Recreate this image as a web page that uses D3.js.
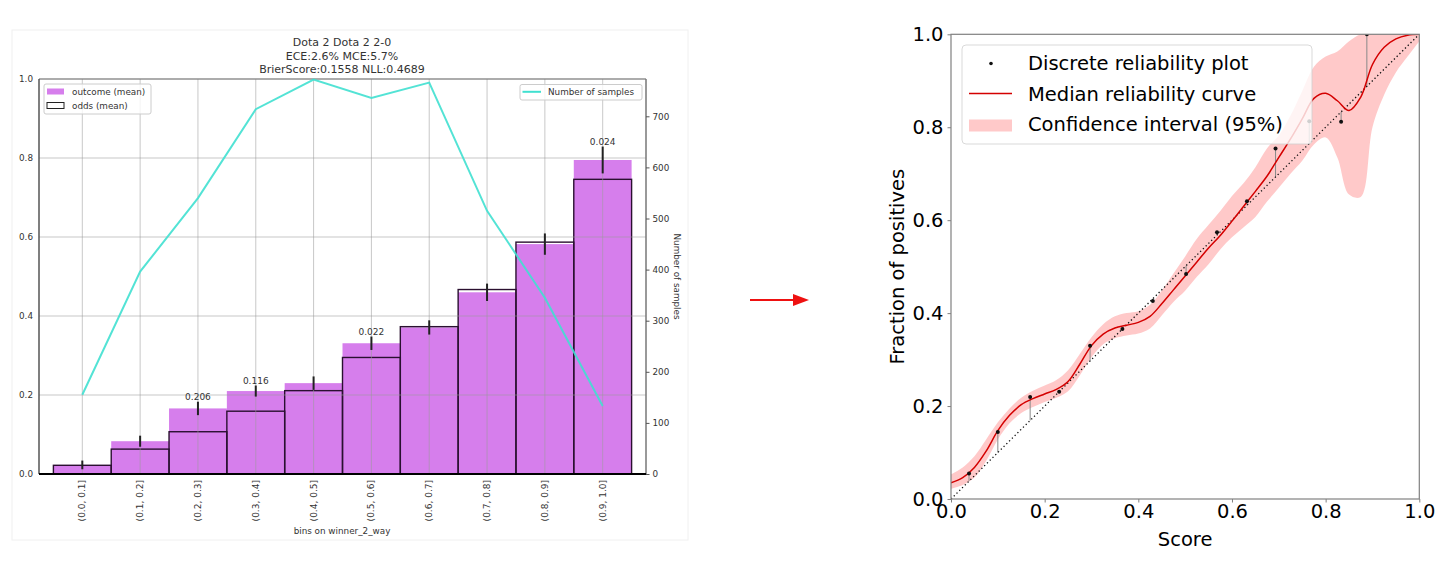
<!DOCTYPE html>
<html>
<head>
<meta charset="utf-8">
<script src="https://cdn.jsdelivr.net/npm/d3@7"></script>
<style>
  html, body { margin: 0; padding: 0; background: #fff; }
  svg { display: block; font-family: "DejaVu Sans", sans-serif; }
</style>
</head>
<body>
<svg id="chart" width="1456" height="567"></svg>
<script>
// ---------------- Left chart data ----------------
const bins = ["(0.0, 0.1]", "(0.1, 0.2]", "(0.2, 0.3]", "(0.3, 0.4]", "(0.4, 0.5]",
              "(0.5, 0.6]", "(0.6, 0.7]", "(0.7, 0.8]", "(0.8, 0.9]", "(0.9, 1.0]"];
const outcomeMean = [0.023, 0.083, 0.166, 0.210, 0.230, 0.331, 0.371, 0.460, 0.582, 0.795];
const oddsMean    = [0.022, 0.063, 0.107, 0.159, 0.211, 0.295, 0.373, 0.467, 0.587, 0.746];
const outcomeErr  = [0.011, 0.014, 0.017, 0.014, 0.017, 0.017, 0.018, 0.022, 0.027, 0.034];
const barLabels   = ["", "", "0.206", "0.116", "", "0.022", "", "", "", "0.024"];
const nSamples    = [155, 396, 540, 714, 772, 736, 766, 515, 345, 133];
const leftYTicks  = [0, 0.2, 0.4, 0.6, 0.8, 1.0];
const rightYTicks = [0, 100, 200, 300, 400, 500, 600, 700];
const titleLines  = ["Dota 2 Dota 2 2-0", "ECE:2.6% MCE:5.7%", "BrierScore:0.1558 NLL:0.4689"];

// ---------------- Right chart data ----------------
const pointX = [0.0385, 0.100, 0.169, 0.231, 0.297, 0.366, 0.431, 0.502, 0.568, 0.632, 0.693, 0.765, 0.833, 0.888];
const pointY = [0.055, 0.144, 0.2195, 0.231, 0.330, 0.366, 0.426, 0.484, 0.574, 0.641, 0.754, 0.813, 0.812, 1.0];
const curveX = [0, 0.025, 0.05, 0.075, 0.1, 0.125, 0.15, 0.175, 0.2, 0.225, 0.25, 0.275, 0.3, 0.325, 0.35,
                0.375, 0.4, 0.425, 0.45, 0.475, 0.5, 0.525, 0.55, 0.575, 0.6, 0.625, 0.65, 0.675, 0.7,
                0.725, 0.75, 0.775, 0.8, 0.825, 0.85, 0.875, 0.9, 0.925, 0.95, 0.975, 1.0];
const medianY = [0.035, 0.046, 0.068, 0.103, 0.147, 0.180, 0.203, 0.216, 0.226, 0.236, 0.253, 0.290, 0.330,
                 0.355, 0.368, 0.374, 0.380, 0.393, 0.420, 0.450, 0.480, 0.510, 0.540, 0.567, 0.598, 0.630,
                 0.662, 0.695, 0.735, 0.775, 0.818, 0.862, 0.873, 0.857, 0.836, 0.865, 0.935, 0.972, 0.990,
                 0.998, 1.0];
const upperY  = [0.053, 0.068, 0.092, 0.128, 0.165, 0.195, 0.218, 0.233, 0.244, 0.256, 0.277, 0.312, 0.348,
                 0.376, 0.393, 0.400, 0.404, 0.418, 0.448, 0.485, 0.522, 0.560, 0.590, 0.620, 0.652, 0.680,
                 0.714, 0.755, 0.782, 0.825, 0.878, 0.930, 0.952, 0.963, 0.985, 1.0, 1.0, 1.0, 1.0, 1.0, 1.0];
const lowerY  = [0.022, 0.030, 0.046, 0.082, 0.128, 0.163, 0.185, 0.198, 0.209, 0.218, 0.232, 0.266, 0.305,
                 0.333, 0.346, 0.352, 0.356, 0.367, 0.395, 0.424, 0.448, 0.478, 0.505, 0.537, 0.563, 0.585,
                 0.607, 0.640, 0.670, 0.700, 0.728, 0.763, 0.778, 0.735, 0.655, 0.650, 0.800, 0.870, 0.918,
                 0.952, 0.985];
const rightTicks = [0, 0.2, 0.4, 0.6, 0.8, 1.0];
const legendR = ["Discrete reliability plot", "Median reliability curve", "Confidence interval (95%)"];

const svg = d3.select("#chart");

// =============== LEFT CHART ===============
const L = { left: 39, right: 646, top: 79, bottom: 474 };
const xb = d3.scaleBand().domain(bins).range([53.4, 631.6]).paddingInner(0).paddingOuter(0);
const yL = d3.scaleLinear().domain([0, 1]).range([L.bottom, L.top]);
const y2 = d3.scaleLinear().domain([0, 773]).range([L.bottom, L.top]);
const cx = b => xb(b) + xb.bandwidth() / 2;
const txt = "#333";

// faint figure frame
svg.append("rect").attr("x", 12).attr("y", 30).attr("width", 676).attr("height", 510)
  .attr("fill", "none").attr("stroke", "#f0f0f0").attr("stroke-width", 1);

const gL = svg.append("g");

// outcome bars
gL.selectAll("rect.outcome").data(bins).join("rect").attr("class", "outcome")
  .attr("x", b => xb(b)).attr("width", xb.bandwidth())
  .attr("y", (b, i) => yL(outcomeMean[i])).attr("height", (b, i) => yL(0) - yL(outcomeMean[i]))
  .attr("fill", "#d67eec");

// odds bars (outline)
gL.selectAll("rect.odds").data(bins).join("rect").attr("class", "odds")
  .attr("x", b => xb(b)).attr("width", xb.bandwidth())
  .attr("y", (b, i) => yL(oddsMean[i])).attr("height", (b, i) => yL(0) - yL(oddsMean[i]))
  .attr("fill", "none").attr("stroke", "#2a1030").attr("stroke-width", 1.4);

// grid
const gridG = gL.append("g").attr("stroke", "#9a9a9a").attr("stroke-opacity", 0.55).attr("stroke-width", 1);
bins.forEach(b => gridG.append("line").attr("x1", cx(b)).attr("x2", cx(b)).attr("y1", L.top).attr("y2", L.bottom));
leftYTicks.forEach(t => gridG.append("line").attr("x1", L.left).attr("x2", L.right).attr("y1", yL(t)).attr("y2", yL(t)));

// error bars
gL.selectAll("line.err").data(bins).join("line").attr("class", "err")
  .attr("x1", cx).attr("x2", cx)
  .attr("y1", (b, i) => yL(outcomeMean[i] - outcomeErr[i]))
  .attr("y2", (b, i) => yL(outcomeMean[i] + outcomeErr[i]))
  .attr("stroke", "#222").attr("stroke-width", 2);

// bar labels
gL.selectAll("text.blab").data(bins).join("text").attr("class", "blab")
  .attr("x", cx).attr("y", (b, i) => yL(outcomeMean[i] + outcomeErr[i]) - 2)
  .attr("text-anchor", "middle").attr("font-size", 9).attr("fill", txt)
  .text((b, i) => barLabels[i]);

// spines
gL.append("line").attr("x1", L.left).attr("x2", L.right).attr("y1", L.top).attr("y2", L.top).attr("stroke", "#777").attr("stroke-width", 1.2);
gL.append("line").attr("x1", L.left).attr("x2", L.left).attr("y1", L.top).attr("y2", L.bottom).attr("stroke", "#555").attr("stroke-width", 1.5);
gL.append("line").attr("x1", L.right).attr("x2", L.right).attr("y1", L.top).attr("y2", L.bottom).attr("stroke", "#777").attr("stroke-width", 1.5);
gL.append("line").attr("x1", L.left).attr("x2", L.right).attr("y1", L.bottom).attr("y2", L.bottom).attr("stroke", "#000").attr("stroke-width", 2);

// left y axis
const axL = d3.axisLeft(yL).tickValues(leftYTicks).tickFormat(d3.format(".1f")).tickSize(0).tickPadding(6);
const gAxL = gL.append("g").attr("transform", `translate(${L.left},0)`).call(axL);
gAxL.select(".domain").remove();
gAxL.selectAll("text").attr("font-size", 8.8).attr("fill", txt).attr("font-family", "DejaVu Sans");

// right y axis
const axR = d3.axisRight(y2).tickValues(rightYTicks).tickSize(3.5).tickPadding(3);
const gAxR = gL.append("g").attr("transform", `translate(${L.right},0)`).call(axR);
gAxR.select(".domain").remove();
gAxR.selectAll("line").attr("stroke", "#555");
gAxR.selectAll("text").attr("font-size", 8.8).attr("fill", txt).attr("font-family", "DejaVu Sans");

// x tick labels (rotated)
gL.selectAll("text.xt").data(bins).join("text").attr("class", "xt")
  .attr("transform", b => `translate(${cx(b)},${L.bottom + 6}) rotate(-90)`)
  .attr("text-anchor", "end").attr("dominant-baseline", "central")
  .attr("font-size", 9).attr("fill", txt).text(b => b);

gL.append("text").attr("x", 342).attr("y", 534).attr("text-anchor", "middle")
  .attr("font-size", 8.8).attr("fill", txt).text("bins on winner_2_way");
gL.append("text").attr("transform", `translate(677,${(L.top + L.bottom) / 2}) rotate(90)`)
  .attr("text-anchor", "middle").attr("dominant-baseline", "central")
  .attr("font-size", 8.8).attr("fill", txt).text("Number of samples");

// title
titleLines.forEach((t, i) => gL.append("text").attr("x", 342).attr("y", 46 + i * 13.5)
  .attr("text-anchor", "middle").attr("font-size", 11).attr("fill", txt).text(t));

// number of samples line
const sLine = d3.line().x((d, i) => cx(bins[i])).y(d => y2(d));
gL.append("path").datum(nSamples).attr("d", sLine).attr("fill", "none")
  .attr("stroke", "#40e0d0").attr("stroke-opacity", 0.9).attr("stroke-width", 2);

// left legends
const lg1 = gL.append("g");
lg1.append("rect").attr("x", 44).attr("y", 84).attr("width", 107).attr("height", 30).attr("rx", 2)
  .attr("fill", "#fff").attr("fill-opacity", 0.8).attr("stroke", "#ccc");
lg1.append("rect").attr("x", 47).attr("y", 88.5).attr("width", 17).attr("height", 6).attr("fill", "#d67eec");
lg1.append("rect").attr("x", 47).attr("y", 102.5).attr("width", 17).attr("height", 6)
  .attr("fill", "none").attr("stroke", "#222").attr("stroke-width", 1);
lg1.append("text").attr("x", 72).attr("y", 92).attr("dominant-baseline", "central")
  .attr("font-size", 8.8).attr("fill", txt).text("outcome (mean)");
lg1.append("text").attr("x", 72).attr("y", 106).attr("dominant-baseline", "central")
  .attr("font-size", 8.8).attr("fill", txt).text("odds (mean)");

const lg2 = gL.append("g");
lg2.append("rect").attr("x", 520).attr("y", 84.5).attr("width", 122).attr("height", 15.5).attr("rx", 2)
  .attr("fill", "#fff").attr("fill-opacity", 0.8).attr("stroke", "#ccc");
lg2.append("line").attr("x1", 522.5).attr("x2", 541).attr("y1", 91.8).attr("y2", 91.8)
  .attr("stroke", "#40e0d0").attr("stroke-width", 2);
lg2.append("text").attr("x", 548).attr("y", 92).attr("dominant-baseline", "central")
  .attr("font-size", 8.8).attr("fill", txt).text("Number of samples");

// =============== ARROW ===============
svg.append("line").attr("x1", 750).attr("x2", 795).attr("y1", 300).attr("y2", 300)
  .attr("stroke", "#ee1111").attr("stroke-width", 2);
svg.append("path").attr("d", "M793,294 L809,300 L793,306 Z").attr("fill", "#ee1111");

// =============== RIGHT CHART ===============
const R = { left: 951, right: 1419.3, top: 34.3, bottom: 499 };
const xR = d3.scaleLinear().domain([0, 1]).range([R.left, R.right]);
const yR = d3.scaleLinear().domain([0, 1]).range([R.bottom, R.top]);
const gR = svg.append("g");

svg.append("defs").append("clipPath").attr("id", "clipR").append("rect")
  .attr("x", R.left).attr("y", R.top).attr("width", R.right - R.left).attr("height", R.bottom - R.top);
const plotR = gR.append("g").attr("clip-path", "url(#clipR)");

// confidence band
const area = d3.area().x((d, i) => xR(curveX[i])).y0((d, i) => yR(lowerY[i])).y1(d => yR(d))
  .curve(d3.curveCatmullRom.alpha(0.5));
plotR.append("path").datum(upperY).attr("d", area).attr("fill", "#ff0000").attr("fill-opacity", 0.21);

// gap lines
plotR.selectAll("line.gap").data(pointX).join("line").attr("class", "gap")
  .attr("x1", d => xR(d)).attr("x2", d => xR(d))
  .attr("y1", d => yR(d)).attr("y2", (d, i) => yR(pointY[i]))
  .attr("stroke", "#8a8a8a").attr("stroke-width", 1);

// diagonal
plotR.append("line").attr("x1", xR(0)).attr("y1", yR(0)).attr("x2", xR(1)).attr("y2", yR(1))
  .attr("stroke", "#111").attr("stroke-width", 1.3).attr("stroke-dasharray", "1.3,2.6");

// median curve
const mline = d3.line().x((d, i) => xR(curveX[i])).y(d => yR(d)).curve(d3.curveCatmullRom.alpha(0.5));
plotR.append("path").datum(medianY).attr("d", mline).attr("fill", "none")
  .attr("stroke", "#d40000").attr("stroke-width", 1.5);

// points
plotR.selectAll("circle.pt").data(pointX).join("circle").attr("class", "pt")
  .attr("cx", d => xR(d)).attr("cy", (d, i) => yR(pointY[i])).attr("r", 2)
  .attr("fill", "#111");

// spines
gR.append("rect").attr("x", R.left).attr("y", R.top).attr("width", R.right - R.left).attr("height", R.bottom - R.top)
  .attr("fill", "none").attr("stroke", "#808080").attr("stroke-width", 1.2);

// axes
const axRX = d3.axisBottom(xR).tickValues(rightTicks).tickFormat(d3.format(".1f")).tickSize(3.5).tickPadding(2);
const gRX = gR.append("g").attr("transform", `translate(0,${R.bottom})`).call(axRX);
gRX.select(".domain").remove();
gRX.selectAll("line").attr("stroke", "#808080");
gRX.selectAll("text").attr("font-size", 19.5).attr("fill", "#000").attr("font-family", "DejaVu Sans");

const axRY = d3.axisLeft(yR).tickValues(rightTicks).tickFormat(d3.format(".1f")).tickSize(3.5).tickPadding(4);
const gRY = gR.append("g").attr("transform", `translate(${R.left},0)`).call(axRY);
gRY.select(".domain").remove();
gRY.selectAll("line").attr("stroke", "#808080");
gRY.selectAll("text").attr("font-size", 19.5).attr("fill", "#000").attr("font-family", "DejaVu Sans");

gR.append("text").attr("x", (R.left + R.right) / 2).attr("y", 539).attr("text-anchor", "middle")
  .attr("dominant-baseline", "central").attr("font-size", 19.5).attr("fill", "#000").text("Score");
gR.append("text").attr("transform", `translate(897,${(R.top + R.bottom) / 2}) rotate(-90)`)
  .attr("text-anchor", "middle").attr("dominant-baseline", "central")
  .attr("font-size", 19.5).attr("fill", "#000").text("Fraction of positives");

// right legend
const lgR = gR.append("g");
lgR.append("rect").attr("x", 962).attr("y", 45).attr("width", 350).attr("height", 99).attr("rx", 4)
  .attr("fill", "#fff").attr("fill-opacity", 0.8).attr("stroke", "#d0d0d0").attr("stroke-opacity", 0.8);
lgR.append("circle").attr("cx", 991).attr("cy", 63.5).attr("r", 1.8).attr("fill", "#111");
lgR.append("line").attr("x1", 969).attr("x2", 1012).attr("y1", 93.5).attr("y2", 93.5)
  .attr("stroke", "#d40000").attr("stroke-width", 1.5);
lgR.append("rect").attr("x", 969).attr("y", 119.5).attr("width", 43).attr("height", 12)
  .attr("fill", "#ff0000").attr("fill-opacity", 0.21);
legendR.forEach((t, i) => lgR.append("text").attr("x", 1028).attr("y", 63.5 + i * 30.5)
  .attr("dominant-baseline", "central").attr("font-size", 19.5).attr("fill", "#000").text(t));
</script>
</body>
</html>
